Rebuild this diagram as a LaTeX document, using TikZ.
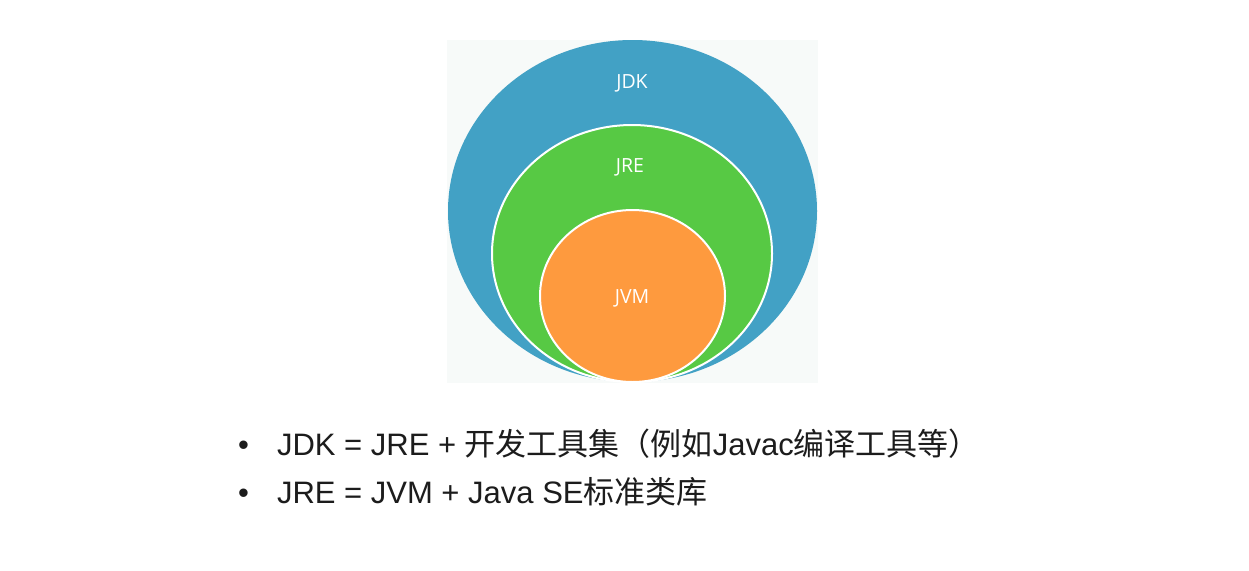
\documentclass[tikz,border=0pt]{standalone}
\usepackage{fontspec}
\setmainfont{Liberation Sans}
\newfontfamily\cjk{Noto Sans CJK SC}
\newfontfamily\lblfont{Open Sans}
\usepackage{tikz}
\usetikzlibrary{shapes.geometric, positioning}
\usepackage{xcolor}

\definecolor{jdkblue}{HTML}{42A1C5}
\definecolor{jregreen}{HTML}{57C944}
\definecolor{jvmorange}{HTML}{FE9A3E}
\definecolor{panelbg}{HTML}{F7FAF9}
\definecolor{textdark}{HTML}{1C1C1C}

\begin{document}
\begin{tikzpicture}[x=1pt, y=-1pt,
  every node/.style={inner sep=0pt, outer sep=0pt},
  layer/.style={ellipse, draw=white, line width=2pt},
  lbl/.style={font=\lblfont\fontsize{19.5}{22}\selectfont, text=white},
  bullettext/.style={anchor=base west, text=textdark, font=\fontsize{31}{36}\selectfont}]
  \useasboundingbox[fill=white] (0,0) rectangle (1249,570);
  \fill[panelbg] (447,40) rectangle (818,383);
  % nested circles
  \node[layer, draw=none, fill=jdkblue, minimum width=369pt, minimum height=342pt] (jdk) at (632.5,211) {};
  \node[layer, fill=jregreen, minimum width=280pt, minimum height=257pt] (jre) at (632,253.5) {};
  \node[layer, fill=jvmorange, minimum width=185pt, minimum height=172pt] (jvm) at (632.5,296) {};
  \node[lbl] (jdklbl) at (632,83) {JDK};
  \node[lbl] (jrelbl) at (630,167) {JRE};
  \node[lbl] (jvmlbl) at (632,298) {JVM};
  % bullet lines
  \node[bullettext] (b1) at (238,455) {\textbullet};
  \node[bullettext] (b2) at (238,503) {\textbullet};
  \node[bullettext] (l1) at (277,455) {JDK = JRE + {\cjk 开发工具集（例如}Javac{\cjk 编译工具等）}};
  \node[bullettext] (l2) at (277,503) {JRE = JVM + Java SE{\cjk 标准类库}};
\end{tikzpicture}
\end{document}
